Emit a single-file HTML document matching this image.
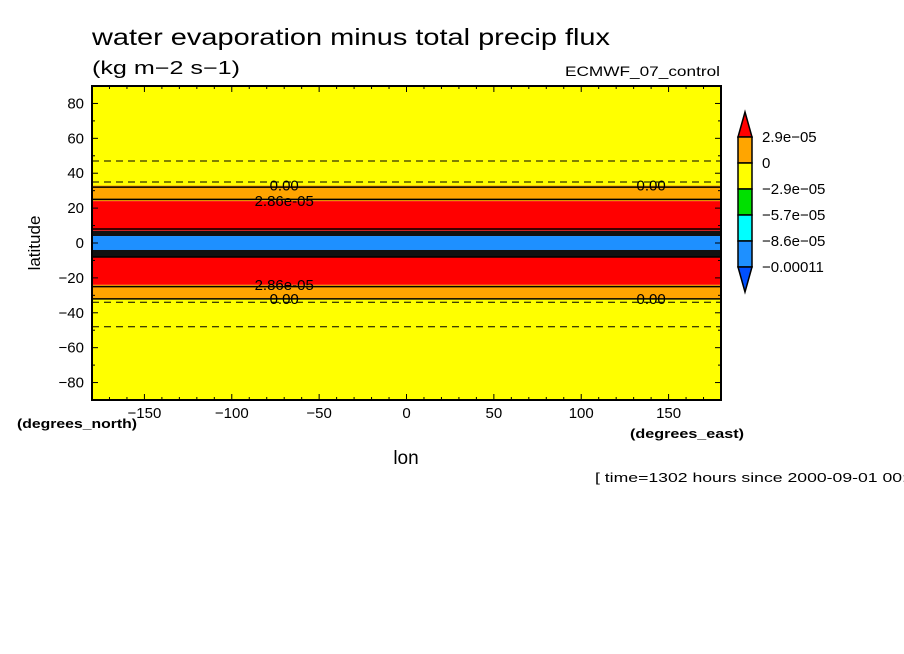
<!DOCTYPE html>
<html><head><meta charset="utf-8"><style>
body{margin:0;background:#fff;width:904px;height:654px;overflow:hidden}
svg{display:block;font-family:"Liberation Sans",sans-serif}
</style></head><body>
<svg id="c" width="904" height="654">
<text x="92" y="45" font-size="23" textLength="518" lengthAdjust="spacingAndGlyphs">water evaporation minus total precip flux</text>
<text x="92" y="74" font-size="18" textLength="148" lengthAdjust="spacingAndGlyphs">(kg m−2 s−1)</text>
<text x="565" y="76" font-size="14" textLength="155" lengthAdjust="spacingAndGlyphs">ECMWF_07_control</text>
<g id="plot"></g>
<g id="axes"></g>
<g id="cbar"></g>
<text x="17" y="428" font-size="13" font-weight="bold" textLength="120" lengthAdjust="spacingAndGlyphs">(degrees_north)</text>
<text x="630" y="438" font-size="13" font-weight="bold" textLength="114" lengthAdjust="spacingAndGlyphs">(degrees_east)</text>
<text x="406" y="464" font-size="19" text-anchor="middle">lon</text>
<text x="40" y="243" font-size="17" text-anchor="middle" transform="rotate(-90 40 243)">latitude</text>
<text x="595" y="482" font-size="13" textLength="312" lengthAdjust="spacingAndGlyphs">[ time=1302 hours since 2000-09-01 00:</text>
</svg>
<script>
const bandTop=[90,33,24,7,4,-4,-8,-24,-32];
const bandBot=[33,24,7,4,-4,-8,-24,-32,-90];
const bandValue=[-1e-5,1.5e-5,4e-5,-1.3e-4,-1e-4,-1.3e-4,4e-5,1.5e-5,-1e-5];
const levels=[2.9e-5,0,-2.9e-5,-5.7e-5,-8.6e-5,-1.1e-4];
const levelLabels=["2.9e-05","0","-2.9e-05","-5.7e-05","-8.6e-05","-0.00011"];
const cbColors=["#ff0000","#ffa500","#ffff00","#00e000","#00ffff","#1e90ff","#0050ff"];
const solidContours=[32,25,8,-8,-25,-32];
const dashedContours=[47,35,-34,-48];
const xTicks=[-150,-100,-50,0,50,100,150];
const yTicks=[80,60,40,20,0,-20,-40,-60,-80];
const L=92,R=721,T=86,B=400;
const X=v=>L+(v+180)/360*(R-L);
const Y=v=>T+(90-v)/180*(B-T);
const NS="http://www.w3.org/2000/svg";
function mk(t,a,p){const e=document.createElementNS(NS,t);for(const k in a)e.setAttribute(k,a[k]);p.appendChild(e);return e;}
function col(v){if(v>levels[0])return cbColors[0];for(let i=1;i<levels.length;i++)if(v>levels[i])return cbColors[i];return v>-1.2e-4?cbColors[5]:"#111";}
const plot=document.getElementById('plot');
for(let i=0;i<bandTop.length;i++){
 let c=col(bandValue[i]); if(Math.abs(bandTop[i])<5&&Math.abs(bandBot[i])<5)c="#1e90ff";
 const r=mk('rect',{x:L,y:Y(bandTop[i]),width:R-L,height:Y(bandBot[i])-Y(bandTop[i]),fill:c},plot);
 
 
}
for(const c of solidContours){const l=mk('line',{x1:L,x2:R,y1:Y(c),y2:Y(c),stroke:'#000','stroke-width':1.5},plot);
 
 }
for(const c of dashedContours){const l=mk('line',{x1:L,x2:R,y1:Y(c),y2:Y(c),stroke:'#000','stroke-width':1,'stroke-dasharray':'7 5'},plot);
 
 }
[["0.00",33],["2.86e-05",24],["2.86e-05",-24],["0.00",-32]].forEach(([t,lat])=>{
 [-70,140].forEach((lon,j)=>{if(t!="0.00"&&j==1)return;const e=mk('text',{x:X(lon),y:Y(lat)+5,'font-size':15,'text-anchor':'middle'},plot);e.textContent=t;
 
 });});
const ax=document.getElementById('axes');
mk('rect',{x:L,y:T,width:R-L,height:B-T,fill:'none',stroke:'#000','stroke-width':2},ax);
for(let v=-180;v<=180;v+=10){const len=v%50==0?6:3;mk('line',{x1:X(v),x2:X(v),y1:T,y2:T+len,stroke:'#000'},ax);mk('line',{x1:X(v),x2:X(v),y1:B,y2:B-len,stroke:'#000'},ax);}
for(let v=-90;v<=90;v+=10){const len=v%20==0?6:3;mk('line',{x1:L,x2:L+len,y1:Y(v),y2:Y(v),stroke:'#000'},ax);mk('line',{x1:R,x2:R-len,y1:Y(v),y2:Y(v),stroke:'#000'},ax);}
xTicks.forEach(v=>{const e=mk('text',{x:X(v),y:B+18,'font-size':15,'text-anchor':'middle'},ax);e.textContent=String(v).replace('-','−');
 
 });
yTicks.forEach(v=>{const e=mk('text',{x:L-8,y:Y(v)+5,'font-size':15,'text-anchor':'end'},ax);e.textContent=String(v).replace('-','−');
 
 });
const cb=document.getElementById('cbar');
const cx=738,cw=14,ct=137,seg=26;
mk('polygon',{points:`${cx},${ct} ${cx+cw},${ct} ${cx+cw/2},${ct-25}`,fill:cbColors[0],stroke:'#000','stroke-width':1.5},cb);
for(let i=1;i<=5;i++){const r=mk('rect',{x:cx,y:ct+(i-1)*seg,width:cw,height:seg,fill:cbColors[i],stroke:'#000','stroke-width':1.5},cb);
 
 }
const cb2=ct+5*seg;
mk('polygon',{points:`${cx},${cb2} ${cx+cw},${cb2} ${cx+cw/2},${cb2+25}`,fill:cbColors[6],stroke:'#000','stroke-width':1.5},cb);
levelLabels.forEach((t,i)=>{const e=mk('text',{x:762,y:ct+i*seg+5,'font-size':15},cb);e.textContent=t.replace(/-/g,'−');
 
 });
</script>
</body></html>
